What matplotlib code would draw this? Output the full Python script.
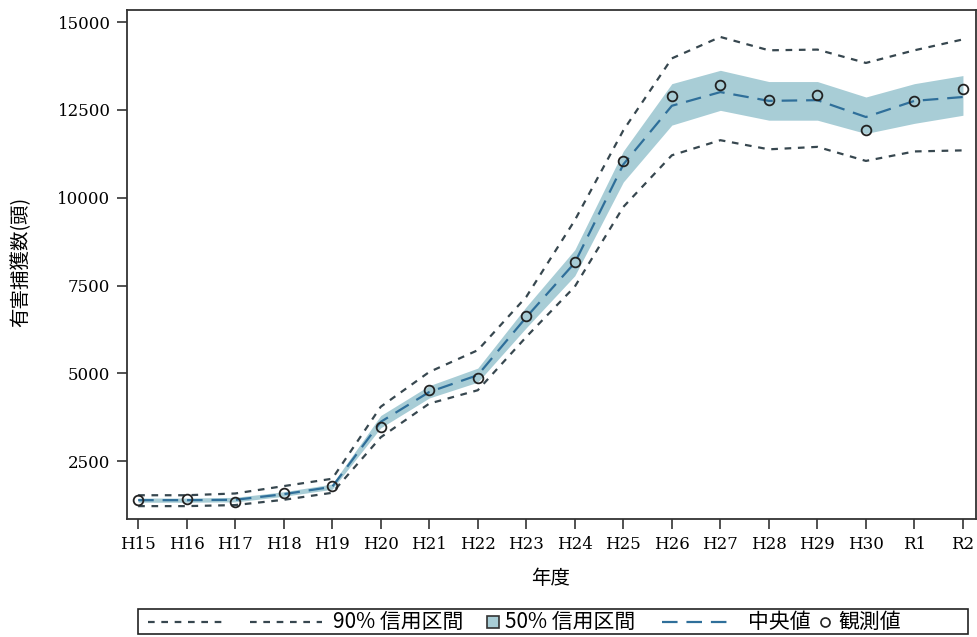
import matplotlib
matplotlib.use("Agg")
import matplotlib.pyplot as plt
from matplotlib.lines import Line2D
from matplotlib.patches import Rectangle

# 年度ごとの有害捕獲数と推定結果
years = ["H15", "H16", "H17", "H18", "H19", "H20", "H21", "H22", "H23",
         "H24", "H25", "H26", "H27", "H28", "H29", "H30", "R1", "R2"]
observed = [1390, 1410, 1330, 1600, 1780, 3480, 4520, 4880, 6630,
            8170, 11050, 12890, 13210, 12790, 12930, 11930, 12760, 13110]
median = [1390, 1390, 1400, 1560, 1770, 3620, 4470, 4950, 6600,
          8150, 10950, 12620, 13010, 12760, 12780, 12300, 12760, 12870]
lo90 = [1220, 1220, 1250, 1400, 1600, 3180, 4140, 4520, 6040,
        7470, 9740, 11210, 11640, 11380, 11450, 11050, 11320, 11350]
hi90 = [1530, 1530, 1580, 1790, 2000, 4050, 5040, 5660, 7180,
        9360, 11920, 13970, 14580, 14200, 14220, 13840, 14200, 14510]
lo50 = [1330, 1330, 1340, 1500, 1700, 3450, 4300, 4750, 6300,
        7780, 10450, 12070, 12490, 12210, 12210, 11830, 12120, 12350]
hi50 = [1450, 1450, 1470, 1630, 1850, 3800, 4650, 5150, 6900,
        8520, 11330, 13250, 13630, 13310, 13310, 12870, 13250, 13480]
yticks = [2500, 5000, 7500, 10000, 12500, 15000]

band_color = "#a8cdd6"
median_color = "#2f6f9a"
ci_color = "#37474f"
ci_dash = (3, 3)
med_dash = (7, 4)

jp = ["Noto Sans CJK JP", "DejaVu Sans"]
serif = ["DejaVu Serif"]

W, H = 978, 637
fig = plt.figure(figsize=(W / 100, H / 100), dpi=100)
ax = fig.add_axes([0.130, 0.185, 0.868, 0.799])

x = list(range(len(years)))
ax.fill_between(x, lo50, hi50, color=band_color, lw=0, zorder=1)
ax.plot(x, lo90, color=ci_color, lw=1.6, dashes=ci_dash, zorder=2)
ax.plot(x, hi90, color=ci_color, lw=1.6, dashes=ci_dash, zorder=2)
ax.plot(x, median, color=median_color, lw=1.6, dashes=med_dash, zorder=3)
ax.plot(x, observed, ls="none", marker="o", ms=7, mfc="none",
        mec="#222222", mew=1.3, zorder=4)

ax.set_xlim(-0.227, 17.27)
ax.set_ylim(849, 15342)
ax.set_xticks(x)
ax.set_xticklabels(years, family=serif, fontsize=12)
ax.set_yticks(yticks)
ax.set_yticklabels([str(v) for v in yticks], family=serif, fontsize=12)
ax.tick_params(direction="out", length=7, width=1.2, color="#333333", pad=5)
for s in ax.spines.values():
    s.set_linewidth(1.3)
    s.set_color("#333333")

fig.text(551 / W, 1 - 578 / H, "年度", family=jp, fontsize=14,
         ha="center", va="center")
fig.text(21 / W, 1 - 262 / H, "有害捕獲数(頭)", family=jp, fontsize=14,
         ha="center", va="center", rotation=90)


# 凡例 (ピクセル座標で配置)
def fx(px):
    return px / W


def fy(py):
    return 1 - py / H


fig.add_artist(Rectangle((fx(138), fy(634)), fx(968) - fx(138), fy(609) - fy(634),
                         transform=fig.transFigure, fill=False,
                         edgecolor="#222222", lw=1.2))
ly = fy(621.5)
for x0, x1 in [(148, 222), (250, 322)]:
    fig.add_artist(Line2D([fx(x0), fx(x1)], [ly, ly], transform=fig.transFigure,
                          color=ci_color, lw=1.6, dashes=ci_dash))
fig.add_artist(Line2D([fx(662), fx(735)], [ly, ly], transform=fig.transFigure,
                      color=median_color, lw=1.6, dashes=med_dash))
fig.add_artist(Line2D([fx(493)], [ly], transform=fig.transFigure, ls="none",
                      marker="s", ms=8, mfc=band_color, mec="#333333", mew=1.2))
fig.add_artist(Line2D([fx(825)], [ly], transform=fig.transFigure, ls="none",
                      marker="o", ms=6.5, mfc="none", mec="#222222", mew=1.2))
for x0, label in [(333, "90% 信用区間"), (505, "50% 信用区間"),
                  (748, "中央値"), (838, "観測値")]:
    fig.text(fx(x0), ly, label, family=jp, fontsize=15, ha="left", va="center")

fig.savefig("out.png", dpi=100)
